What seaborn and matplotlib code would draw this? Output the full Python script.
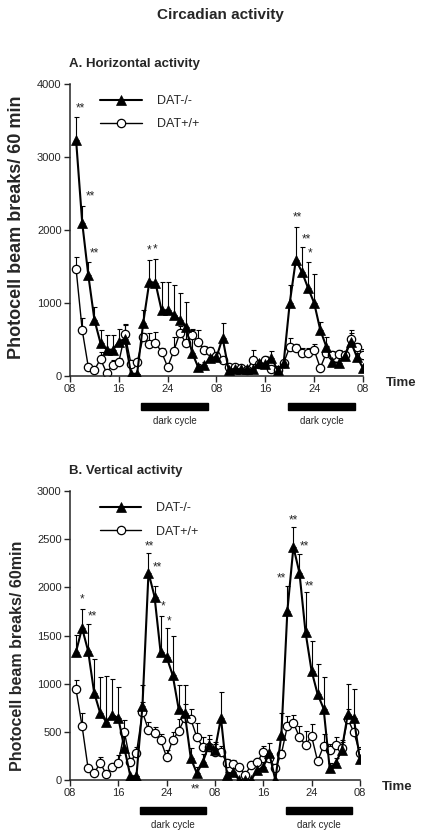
import matplotlib
matplotlib.use("Agg")
import matplotlib.pyplot as plt
import matplotlib.transforms as mtransforms
from matplotlib.patches import Rectangle
import numpy as np
import seaborn as sns

# hourly samples, 09:00 day 1 .. 08:00 day 3 (hours counted from midnight of day 1)
hours = np.arange(9, 57)
tick_hours = [8, 16, 24, 32, 40, 48, 56]
tick_labels = ["08", "16", "24", "08", "16", "24", "08"]
dark_cycles = [(19.6, 30.6), (43.7, 54.7)]

# A. horizontal activity
horiz_ko = [3230, 2100, 1380, 770, 450, 360, 360, 470, 510, 30, 30, 730,
            1290, 1275, 900, 900, 840, 770, 670, 320, 120, 150, 250, 260,
            520, 80, 100, 90, 90, 90, 180, 165, 250, 80, 180, 1000,
            1590, 1425, 1205, 1000, 630, 400, 190, 180, 270, 470, 260, 110]
horiz_ko_err = [320, 230, 180, 170, 180, 200, 200, 180, 200, 0, 0, 170,
                300, 330, 390, 390, 400, 370, 340, 310, 40, 40, 60, 60,
                200, 20, 20, 20, 20, 20, 40, 40, 90, 20, 30, 250,
                450, 340, 360, 400, 110, 140, 60, 60, 60, 160, 60, 30]
horiz_wt = [1466, 630, 123, 82, 233, 41, 151, 192, 575, 164, 192, 534,
            438, 452, 329, 123, 342, 589, 452, 562, 466, 356, 342, 274,
            219, 123, 123, 110, 82, 219, 170, 219, 100, 80, 178, 397,
            384, 315, 315, 356, 110, 315, 288, 301, 288, 507, 397, 288]
horiz_wt_err = [170, 170, 30, 20, 90, 20, 70, 60, 120, 30, 30, 60,
                150, 150, 50, 30, 190, 100, 180, 80, 160, 60, 60, 50,
                40, 30, 30, 30, 20, 140, 40, 60, 30, 20, 40, 120,
                60, 70, 70, 80, 30, 90, 60, 60, 40, 80, 60, 80]

# B. vertical activity
vert_ko = [1332, 1578, 1340, 907, 696, 605, 675, 644, 332, 40, 40, 768,
           2153, 1904, 1329, 1277, 1090, 737, 696, 228, 72, 187, 363, 311,
           644, 50, 83, 0, 0, 0, 104, 135, 280, 0, 467, 1758,
           2420, 2150, 1537, 1135, 893, 741, 125, 177, 311, 685, 644, 218]
vert_ko_err = [170, 200, 280, 350, 370, 470, 375, 320, 150, 0, 0, 220,
               200, 110, 375, 300, 405, 250, 290, 100, 60, 80, 100, 80,
               270, 30, 40, 0, 0, 0, 50, 50, 100, 0, 230, 260,
               210, 200, 415, 310, 310, 330, 50, 50, 100, 310, 300, 90]
vert_wt = [940, 561, 120, 72, 177, 62, 135, 177, 500, 190, 280, 706,
           519, 488, 415, 239, 415, 509, 644, 633, 446, 343, 343, 291,
           291, 177, 166, 135, 52, 156, 187, 291, 228, 125, 270, 561,
           592, 446, 363, 457, 197, 353, 311, 363, 332, 633, 498, 280]
vert_wt_err = [100, 130, 30, 20, 60, 20, 30, 80, 120, 40, 60, 100,
               80, 60, 60, 70, 80, 120, 150, 100, 150, 100, 80, 80,
               60, 40, 40, 30, 20, 40, 40, 60, 40, 30, 40, 100,
               80, 120, 150, 120, 40, 120, 60, 80, 60, 100, 100, 60]

# significance marks: hour, label, dx, dy (pixels from top of error bar)
horiz_stars = [(9, "**", 4, 5), (10, "**", 8, 6), (11, "**", 6, 6),
               (21, "*", 0, 6), (22, "*", 0, 6),
               (45, "**", 2, 7), (46, "**", 4, 5), (47, "*", 2, 5)]
vert_stars = [(10, "*", 0, 6), (11, "**", 4, 5), (21, "**", 1, 4),
              (22, "**", 3, 16), (23, "*", 2, 6), (24, "*", 2, 4),
              (44, "**", -6, 4), (45, "**", 0, 3), (46, "**", 5, 4),
              (47, "**", 4, 3)]
vert_stars_below = [(29, "**")]

sns.set_style("ticks")
plt.rcParams["font.family"] = ["Liberation Sans", "DejaVu Sans"]
plt.rcParams["axes.linewidth"] = 1.1

fig = plt.figure(figsize=(4.25, 8.34), dpi=100)
fig.text(0.518, 0.982, "Circadian activity", ha="center", va="center",
         fontsize=11, fontweight="bold")


def draw_panel(ax, ko, ko_err, wt, wt_err, ymax, ystep, stars, legend_y):
    ko = np.array(ko, dtype=float)
    wt = np.array(wt, dtype=float)
    ax.errorbar(hours, wt, yerr=[np.zeros_like(wt), wt_err], fmt="none",
                ecolor="black", elinewidth=0.8, capsize=1.8, capthick=0.8, zorder=1)
    ax.errorbar(hours, ko, yerr=[np.zeros_like(ko), ko_err], fmt="none",
                ecolor="black", elinewidth=0.8, capsize=1.8, capthick=0.8, zorder=1)
    sns.lineplot(x=hours, y=wt, ax=ax, color="black", lw=1.0, marker="o",
                 markersize=6, markerfacecolor="white", markeredgecolor="black",
                 markeredgewidth=0.9, label="DAT+/+", zorder=2)
    sns.lineplot(x=hours, y=ko, ax=ax, color="black", lw=1.5, marker="^",
                 markersize=7.5, markeredgecolor="black", markeredgewidth=0.5,
                 label="DAT-/-", zorder=3)

    ax.set_xlim(8, 56)
    ax.set_ylim(0, ymax)
    ax.set_xticks(tick_hours)
    ax.set_xticklabels(tick_labels)
    ax.set_yticks(np.arange(0, ymax + 1, ystep))
    ax.tick_params(direction="out", length=4, width=1, labelsize=8, pad=2)
    ax.spines["top"].set_visible(False)
    ax.spines["right"].set_visible(False)
    ax.set_xlabel("")

    idx = {h: i for i, h in enumerate(hours)}
    for h, lab, dx, dy in stars:
        i = idx[h]
        ax.annotate(lab, (h, ko[i] + ko_err[i]), xytext=(dx, dy),
                    textcoords="offset pixels", ha="center", va="baseline",
                    fontsize=8.5)

    handles, labels = ax.get_legend_handles_labels()
    order = [labels.index("DAT-/-"), labels.index("DAT+/+")]
    ax.legend([handles[k] for k in order], [labels[k] for k in order],
              loc="upper left", bbox_to_anchor=(0.065, legend_y), frameon=False,
              fontsize=9, handlelength=3.3, handletextpad=1.2, labelspacing=0.9)

    trans = mtransforms.blended_transform_factory(ax.transData, ax.transAxes)
    for start, end in dark_cycles:
        ax.add_patch(Rectangle((start, -0.117), end - start, 0.024, transform=trans,
                               color="black", clip_on=False))
        ax.text((start + end) / 2, -0.155, "dark cycle", transform=trans,
                ha="center", va="center", fontsize=7)
    ax.text(1.13, -0.025, "Time", transform=ax.transAxes, ha="center",
            va="center", fontsize=9.5, fontweight="bold")


ax_a = fig.add_axes([0.1647, 0.5492, 0.6894, 0.3501])
draw_panel(ax_a, horiz_ko, horiz_ko_err, horiz_wt, horiz_wt_err, 4000, 1000,
           horiz_stars, 1.0)
ax_a.set_ylabel("Photocell beam breaks/ 60 min", fontsize=13, fontweight="bold")
ax_a.yaxis.set_label_coords(-0.155, 0.51)
ax_a.text(-0.005, 1.07, "A. Horizontal activity", transform=ax_a.transAxes,
          ha="left", va="center", fontsize=9.5, fontweight="bold")

ax_b = fig.add_axes([0.1647, 0.0647, 0.682, 0.3465])
draw_panel(ax_b, vert_ko, vert_ko_err, vert_wt, vert_wt_err, 3000, 500,
           vert_stars, 1.0)
for h, lab in vert_stars_below:
    ax_b.annotate(lab, (h, 0), xytext=(-1, -12), textcoords="offset pixels",
                  ha="center", va="baseline", fontsize=8.5)
ax_b.set_ylabel("Photocell beam breaks/ 60min", fontsize=11.5, fontweight="bold")
ax_b.yaxis.set_label_coords(-0.155, 0.43)
ax_b.text(-0.005, 1.07, "B. Vertical activity", transform=ax_b.transAxes,
          ha="left", va="center", fontsize=9.5, fontweight="bold")

fig.savefig("out.png", dpi=100)
